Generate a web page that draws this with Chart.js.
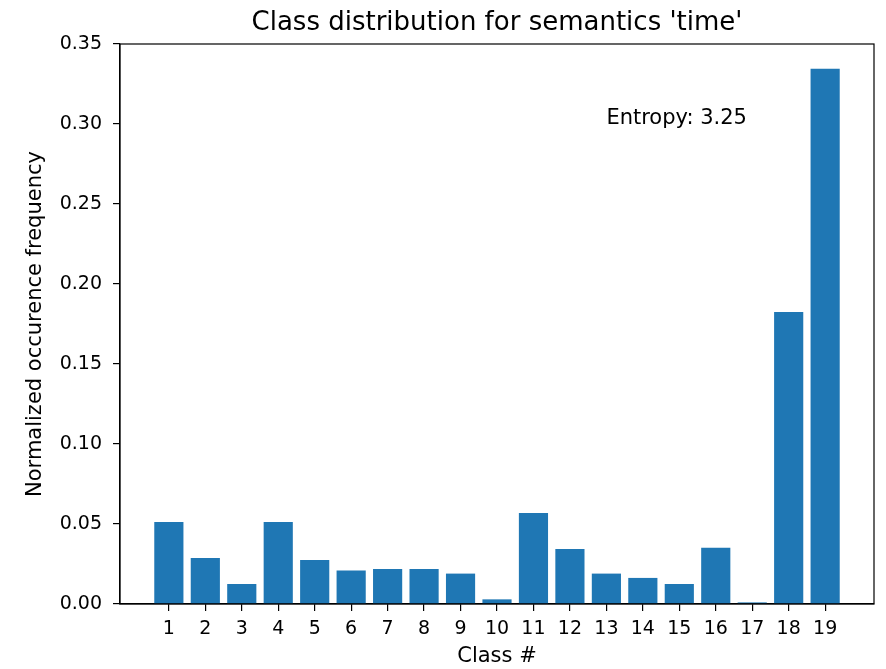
<!DOCTYPE html>
<html>
<head>
<meta charset="utf-8">
<script src="https://cdn.jsdelivr.net/npm/chart.js@4"></script>
<style>
html,body{margin:0;padding:0;background:#fff;}
#wrap{width:886px;height:669px;}
</style>
</head>
<body>
<div id="wrap"><canvas id="c" width="886" height="669"></canvas></div>
<script>
const titleText = "Class distribution for semantics 'time'";
const xAxisLabel = "Class #";
const yAxisLabel = "Normalized occurence frequency";
const entropyLabel = "Entropy: 3.25";
const categories = [1,2,3,4,5,6,7,8,9,10,11,12,13,14,15,16,17,18,19];
const frequencies = [0.0513,0.0288,0.0125,0.0513,0.0275,0.0210,0.0219,0.0219,0.0190,0.0029,0.0569,0.0344,0.0190,0.0163,0.0125,0.0352,0.0010,0.1825,0.3346];
const yTicks = [0,0.05,0.10,0.15,0.20,0.25,0.30,0.35];

const FONT = "'DejaVu Sans', sans-serif";
const points = categories.map((c,i)=>({x:c, y:frequencies[i]}));

const boxPlugin = {
  id:'box',
  afterDraw(chart){
    const {ctx, chartArea:a, scales} = chart;
    ctx.save();
    ctx.strokeStyle='#000';
    ctx.lineWidth=1.2;
    ctx.strokeRect(a.left, a.top, a.right-a.left, a.bottom-a.top);
    ctx.fillStyle='#000';
    ctx.font = "21px " + FONT;
    ctx.textAlign='left';
    ctx.textBaseline='alphabetic';
    ctx.fillText(entropyLabel, scales.x.getPixelForValue(13), scales.y.getPixelForValue(0.30));
    ctx.font = "26px " + FONT;
    ctx.textAlign='center';
    ctx.fillText(titleText, (a.left + a.right)/2, 29.5);
    ctx.restore();
  }
};

new Chart(document.getElementById('c'), {
  type:'bar',
  data:{
    datasets:[{
      data: points,
      backgroundColor:'#1f77b4',
      borderWidth:0,
      barPercentage:0.8,
      categoryPercentage:1.0
    }]
  },
  options:{
    responsive:false,
    devicePixelRatio:1,
    animation:false,
    layout:{padding:{left:0,right:12,top:44,bottom:0}},
    plugins:{
      legend:{display:false},
      tooltip:{enabled:false},
      title:{display:false}
    },
    scales:{
      x:{
        type:'linear',
        min:-0.34, max:20.34,
        offset:false,
        grid:{offset:false, drawOnChartArea:false, drawTicks:true, tickLength:7, color:'#000', lineWidth:1.2},
        border:{display:true, color:'#000', width:1.2},
        afterBuildTicks(scale){ scale.ticks = categories.map(v=>({value:v})); },
        ticks:{color:'#000', font:{family:FONT, size:19}, padding:7, maxRotation:0, autoSkip:false, callback:(v)=>String(v)},
        title:{display:true, text:xAxisLabel, color:'#000', font:{family:FONT, size:21}, padding:{top:0,bottom:0}},
        afterFit(scale){ scale.height = 65; }
      },
      y:{
        type:'linear',
        min:0, max:0.35,
        grid:{drawOnChartArea:false, drawTicks:true, tickLength:7, color:'#000', lineWidth:1.2},
        border:{display:true, color:'#000', width:1.2},
        afterBuildTicks(scale){ scale.ticks = yTicks.map(v=>({value:v})); },
        ticks:{color:'#000', font:{family:FONT, size:19}, padding:11, callback:(v)=>Number(v).toFixed(2)},
        title:{display:true, text:yAxisLabel, color:'#000', font:{family:FONT, size:21}, padding:{top:23,bottom:0}},
        afterFit(scale){ scale.width = 120; }
      }
    }
  },
  plugins:[boxPlugin]
});
</script>
</body>
</html>
